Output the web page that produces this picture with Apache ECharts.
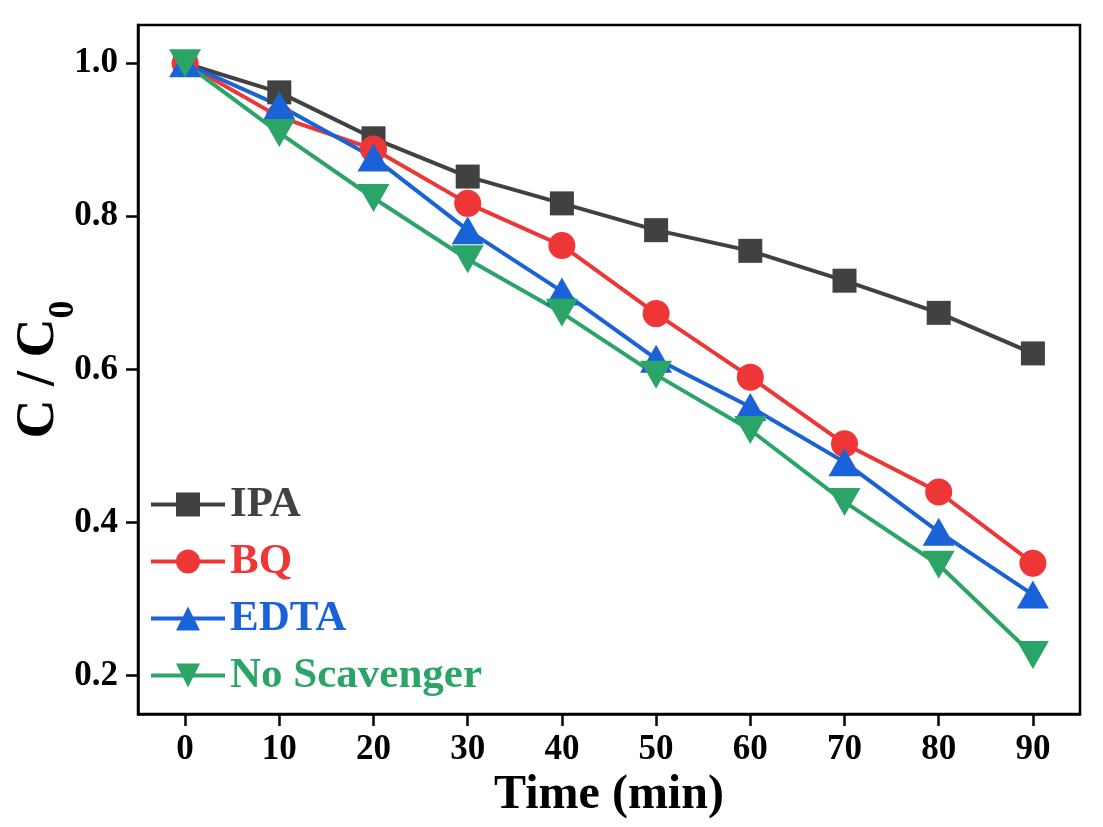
<!DOCTYPE html>
<html>
<head>
<meta charset="utf-8">
<script src="https://cdn.jsdelivr.net/npm/echarts@6/dist/echarts.min.js"></script>
<style>
    html, body { margin: 0; padding: 0; background: #ffffff; }
    #chart { width: 1103px; height: 827px; }
</style>
</head>
<body>
<div id="chart"></div>
<script>
// 数据：时间 (min) 与各体系的 C/C0
var timeArr = [0, 10, 20, 30, 40, 50, 60, 70, 80, 90];
var ipaArr = [1.0, 0.962, 0.902, 0.852, 0.817, 0.782, 0.755, 0.716, 0.674, 0.621];
var bqArr = [1.0, 0.930, 0.888, 0.817, 0.762, 0.673, 0.590, 0.503, 0.440, 0.347];
var edtaArr = [1.0, 0.945, 0.877, 0.782, 0.702, 0.614, 0.551, 0.479, 0.388, 0.306];
var noScavArr = [1.0, 0.909, 0.824, 0.744, 0.674, 0.593, 0.521, 0.427, 0.345, 0.227];
var seriesNames = ['IPA', 'BQ', 'EDTA', 'No Scavenger'];
var seriesColors = ['#414141', '#ef3636', '#1a62d8', '#2ba567'];
// 刻度
var xTicks = [0, 10, 20, 30, 40, 50, 60, 70, 80, 90];
var yTicks = [0.2, 0.4, 0.6, 0.8, 1.0];

var FONT = '"Liberation Serif", "Times New Roman", serif';

function pairs(xs, ys) {
    var out = [];
    for (var i = 0; i < xs.length; i++) {
        out.push([xs[i], ys[i]]);
    }
    return out;
}

function makeSeries(name, color, values, symbol, size, rotate) {
    return {
        name : name,
        type : 'line',
        data : pairs(timeArr, values),
        symbol : symbol,
        symbolSize : size,
        symbolRotate : rotate || 0,
        showAllSymbol : true,
        lineStyle : {
            color : color,
            width : 4
        },
        itemStyle : {
            color : color
        },
        emphasis : { disabled : true },
        animation : false
    };
}

var chart = echarts.init(document.getElementById('chart'));

var axisLabelStyle = {
    fontFamily : FONT,
    fontWeight : 'bold',
    fontSize : 35,
    color : '#000'
};

chart.setOption({
    backgroundColor : '#ffffff',
    grid : {
        left : 138,
        right : 23,
        top : 25,
        bottom : 113,
        outerBoundsMode : 'none',
        show : true,
        borderColor : '#000',
        borderWidth : 2.5
    },
    legend : {
        left : 144,
        top : 478,
        orient : 'vertical',
        itemWidth : 74,
        itemHeight : 30,
        itemGap : 14,
        lineStyle : {
            width : 4
        },
        data : seriesNames.map(function(n, i) {
            return {
                name : n,
                textStyle : {
                    color : seriesColors[i]
                }
            };
        }),
        textStyle : {
            fontFamily : FONT,
            fontWeight : 'bold',
            fontSize : 43
        }
    },
    xAxis : {
        type : 'value',
        min : -5,
        max : 95,
        name : 'Time (min)',
        nameLocation : 'middle',
        nameGap : 56,
        nameTextStyle : {
            fontFamily : FONT,
            fontWeight : 'bold',
            fontSize : 48,
            color : '#000'
        },
        axisLine : {
            onZero : false,
            lineStyle : { color : '#000', width : 2.5 }
        },
        axisTick : {
            length : 12,
            customValues : xTicks,
            lineStyle : { color : '#000', width : 2.5 }
        },
        axisLabel : Object.assign({
            margin : 18,
            customValues : xTicks
        }, axisLabelStyle),
        splitLine : { show : false }
    },
    yAxis : {
        type : 'value',
        min : 0.15,
        max : 1.05,
        name : '{main|C / C}{sub|0}',
        nameLocation : 'middle',
        nameGap : 56,
        nameRotate : 90,
        nameMoveOverlap : false,
        nameTextStyle : {
            rich : {
                main : {
                    fontFamily : FONT,
                    fontWeight : 'bold',
                    fontSize : 54,
                    color : '#000',
                    lineHeight : 86
                },
                sub : {
                    fontFamily : FONT,
                    fontWeight : 'bold',
                    fontSize : 36,
                    color : '#000',
                    lineHeight : 36,
                    verticalAlign : 'bottom'
                }
            }
        },
        axisLine : {
            onZero : false,
            lineStyle : { color : '#000', width : 2.5 }
        },
        axisTick : {
            length : 12,
            customValues : yTicks,
            lineStyle : { color : '#000', width : 2.5 }
        },
        axisLabel : Object.assign({
            margin : 20,
            customValues : yTicks,
            formatter : function(v) {
                return v.toFixed(1);
            }
        }, axisLabelStyle),
        splitLine : { show : false }
    },
    series : [
        makeSeries(seriesNames[0], seriesColors[0], ipaArr, 'rect', 24),
        makeSeries(seriesNames[1], seriesColors[1], bqArr, 'circle', 27),
        makeSeries(seriesNames[2], seriesColors[2], edtaArr, 'triangle', [32, 28]),
        makeSeries(seriesNames[3], seriesColors[3], noScavArr, 'triangle', [32, 28], 180)
    ]
});
</script>
</body>
</html>
